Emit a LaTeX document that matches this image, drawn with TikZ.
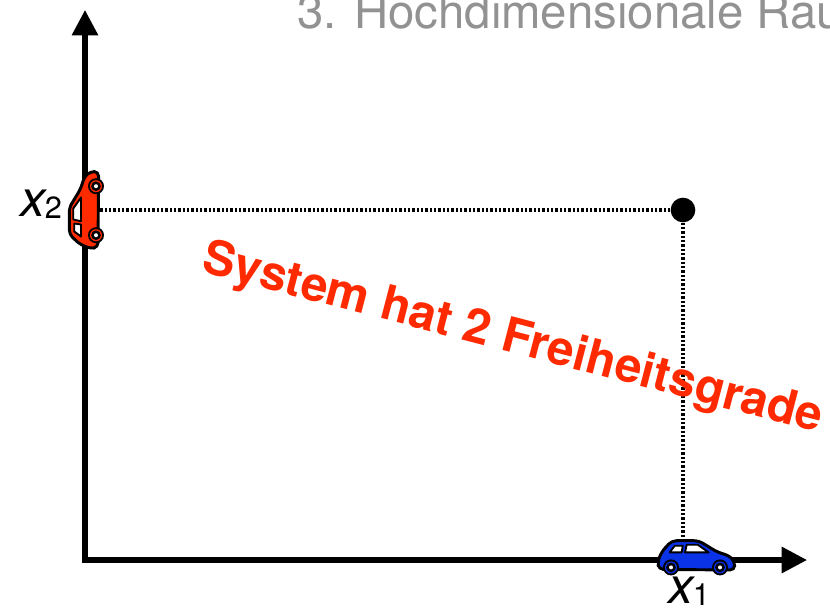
\documentclass[tikz,border=0pt]{standalone}
\usepackage{fontspec}
\setmainfont{TeX Gyre Heros}
\usetikzlibrary{arrows.meta}
\definecolor{TitleGray}{HTML}{929292}
\definecolor{CarRed}{HTML}{FF2A00}
\definecolor{CarBlue}{HTML}{0A32E6}
\newcommand{\axislabel}[2]{\fontsize{38}{38}\selectfont\itshape #1\hspace{-0.5pt}\raisebox{-2pt}{\fontsize{23}{23}\selectfont\upshape #2}}
\tikzset{
  axisline/.style={line width=3.8pt,line join=miter,{Triangle[length=19pt,width=19pt]}-{Triangle[length=19pt,width=19pt]}},
  guideline/.style={line width=2.4pt,dash pattern=on 1.7pt off 1.55pt},
  axislabelnode/.style={inner sep=0pt,anchor=base west},
  pics/car/.style={code={
    \draw[fill=#1,line width=2.2pt,line join=round,rounded corners=3.5pt]
      (-38,12.7) -- (-39,5) -- (-35,-5) -- (-25,-16) -- (2,-16) -- (20,-5)
      -- (33,-0.7) -- (38,5) -- (38,13.3) -- cycle;
    \draw[fill=white,line width=1.4pt,line join=round]
      (-27,-4.3) -- (-22,-11) -- (-14,-11) -- (-15,-4.3) -- cycle;
    \draw[fill=white,line width=1.4pt,line join=round]
      (-11.7,-4.3) -- (-10,-12) -- (1,-12) -- (12,-4.3) -- cycle;
    \foreach \wheelx in {-25.7,23.3} {
      \fill[black] (\wheelx,10.7) circle (8);
      \fill[#1] (\wheelx,10.7) circle (6);
      \fill[black] (\wheelx,10.7) circle (4.8);
      \fill[white] (\wheelx,10.7) circle (2);
    }
  }}
}

\begin{document}
\begin{tikzpicture}[x=0.75pt,y=-0.75pt]
\clip (0,0) rectangle (830,608);
\node[anchor=base west,inner sep=0pt,text=TitleGray,font=\fontsize{35.5}{35.5}\selectfont] (title) at (297,28) {3. Hochdimensionale Rau};

\coordinate (origin) at (85,560);
\coordinate (xtip) at (807,560);
\coordinate (ytip) at (85,10);
\coordinate (xfoot) at (683,540);
\coordinate (yfoot) at (100,210);
\draw[axisline] (ytip) -- (origin) -- (xtip);

\node[circle,fill=black,inner sep=0pt,minimum size=18.5pt] (point) at (683,210) {};
\draw[guideline] (point) -- (xfoot);
\draw[guideline] (point) -- (yfoot);

\pic at (696.7,556.7) {car=CarBlue};
\pic[rotate=90] at (85.3,209.5) {car=CarRed};

\node[axislabelnode] (xonelabel) at (668,603) {\axislabel{x}{1}};
\node[axislabelnode] (xtwolabel) at (20,216) {\axislabel{x}{2}};

\node[rotate=-14.6,text=CarRed,font=\fontsize{36}{36}\selectfont\bfseries] (dof) at (513,340) {System hat 2 Freiheitsgrade};
\end{tikzpicture}
\end{document}
